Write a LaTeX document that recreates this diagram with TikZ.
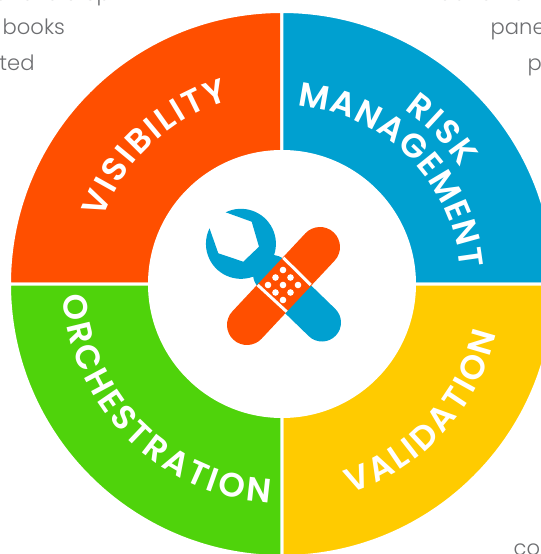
\documentclass[tikz,border=0pt]{standalone}
\usepackage{fontspec}
\setmainfont{Poppins Light}[BoldFont={Poppins SemiBold}]
\usetikzlibrary{decorations.text}

\definecolor{RingOrange}{HTML}{FF4F00}
\definecolor{RingBlue}{HTML}{00A0D0}
\definecolor{RingYellow}{HTML}{FFCB00}
\definecolor{RingGreen}{HTML}{4FD30B}
\definecolor{PageGrey}{HTML}{6D6E71}

\newcommand{\ringfont}{\fontsize{9.6pt}{11pt}\selectfont\bfseries}

\tikzset{
  sector/.style = {draw=white, line width=0.03cm},
  ringtext/.style = {decorate, decoration={text along path, text color=white,
    text align={fit to path}, text={|\ringfont|#1}}},
  pagetext/.style = {text=PageGrey, font=\fontsize{6pt}{7pt}\selectfont, inner sep=0pt, anchor=base west},
}

\begin{document}
\begin{tikzpicture}
    \clip (-2.82, -2.70) rectangle (2.59, 2.84);
    \useasboundingbox (-2.82, -2.70) rectangle (2.59, 2.84);
    \begin{scope} % Text behind the ring
        \node [pagetext] (lineA) at (-3.23, 2.83) {means to step in};
        \node [pagetext] (lineB) at (-2.80, 2.49) {books};
        \node [pagetext] (lineC) at (-2.83, 2.14) {ted};
        \node [pagetext] (lineD) at (1.56, 2.83) {adtion on};
        \node [pagetext] (lineE) at (2.08, 2.49) {panel};
        \node [pagetext] (lineF) at (2.45, 2.14) {p};
        \node [pagetext] (lineG) at (2.31, -2.71) {cor};
    \end{scope}
    \begin{scope} % Ring
        \draw [sector, fill=RingOrange] (-2.725, 0) arc (180:90:2.725) -- (0, 1.325) arc (90:180:1.325) -- cycle;
        \draw [sector, fill=RingBlue] (0, 2.725) arc (90:0:2.725) -- (1.325, 0) arc (0:90:1.325) -- cycle;
        \draw [sector, fill=RingYellow] (2.725, 0) arc (0:-90:2.725) -- (0, -1.325) arc (-90:0:1.325) -- cycle;
        \draw [sector, fill=RingGreen] (0, -2.725) arc (-90:-180:2.725) -- (-1.325, 0) arc (180:270:1.325) -- cycle;
    \end{scope}
    \begin{scope} % Labels on the ring
        \path [ringtext=VISIBILITY] (160:1.91) arc (160:106:1.91);
        \path [ringtext=RISK] (55:2.13) arc (55:33:2.13);
        \path [ringtext=MANAGEMENT] (85:1.79) arc (85:5:1.79);
        \path [ringtext=VALIDATION] (-72:2.20) arc (-72:-13:2.20);
        \path [ringtext=ORCHESTRATION] (183:2.19) arc (183:267:2.19);
    \end{scope}
    \begin{scope} % Wrench
        \fill [RingBlue] (-0.563, 0.717) arc (115.8:-206.2:0.35)
            -- (-0.637, 0.307) -- (-0.387, 0.223) -- (-0.23, 0.373) -- (-0.303, 0.623) -- cycle;
        \draw [RingBlue, line width=0.38cm, line cap=round] (-0.10, 0.10) -- (0.40, -0.385);
    \end{scope}
    \begin{scope} % Bandage
        \draw [RingOrange, line width=0.40cm, line cap=round] (-0.35, -0.41) -- (0.38, 0.37);
        \draw [white, line width=0.03cm] (0.013, 0.263) -- (0.287, -0.01);
        \draw [white, line width=0.03cm] (-0.243, -0.01) -- (0.047, -0.277);
        \foreach \i in {-1, 0, 1} {
            \foreach \j in {-1, 0, 1} {
                \fill [white] ({0.01 + 0.075*(\i + \j)}, {-0.01 + 0.075*(\i - \j)}) circle (0.033);
            }
        }
    \end{scope}
\end{tikzpicture}
\end{document}
